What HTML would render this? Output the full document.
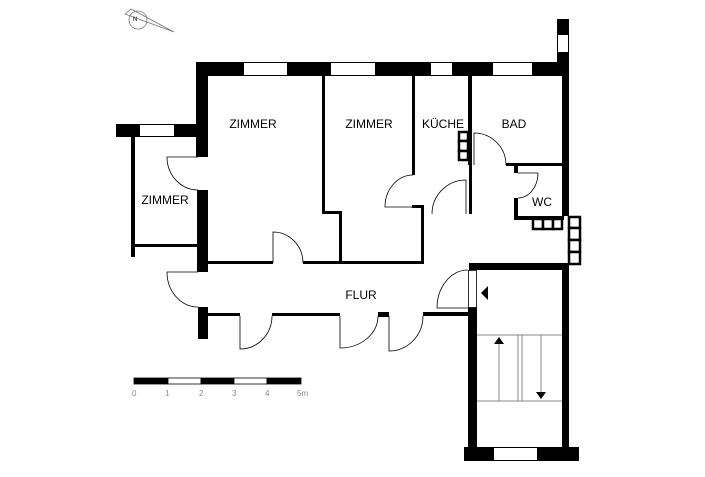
<!DOCTYPE html>
<html><head><meta charset="utf-8"><style>
html,body{margin:0;padding:0;background:#fff;}
svg{display:block;}
text{font-family:"Liberation Sans",sans-serif;fill:#000;}
</style></head><body>
<svg width="705" height="477" viewBox="0 0 705 477" xmlns="http://www.w3.org/2000/svg">
<rect width="705" height="477" fill="#fff"/>
<!-- compass -->
<g stroke="#777" fill="none" stroke-width="0.8">
<circle cx="138" cy="20" r="9"/>
<polygon points="125,14 131,9 174,32"/>
<text x="133" y="21" font-size="6" fill="#444" stroke="none">N</text>
</g>
<!-- top wall -->
<g fill="#000">
<rect x="196" y="62" width="47" height="14"/>
<rect x="288" y="62" width="42" height="14"/>
<rect x="376" y="62" width="54" height="14"/>
<rect x="453" y="62" width="39" height="14"/>
<rect x="533" y="62" width="36" height="14"/>
<rect x="557" y="19" width="12" height="15"/>
<rect x="557" y="53" width="12" height="10"/>
<!-- left walls main -->
<rect x="196" y="62" width="12" height="95"/>
<rect x="197" y="190" width="11" height="82"/>
<rect x="198" y="307" width="10" height="32"/>
<!-- small room -->
<rect x="116" y="124" width="23" height="13"/>
<rect x="175" y="124" width="23" height="13"/>
<rect x="131" y="137" width="4" height="120"/>
<rect x="131" y="244" width="67" height="3"/>
<!-- right wall -->
<rect x="562" y="62" width="7" height="154"/>
<rect x="562" y="263" width="7" height="187"/>
<!-- interior thin walls -->
<rect x="322" y="76" width="3" height="138"/>
<rect x="322" y="211" width="18" height="3"/>
<rect x="339" y="211" width="3" height="53"/>
<rect x="208" y="261" width="65" height="3"/>
<rect x="303" y="261" width="120" height="3"/>
<rect x="412" y="76" width="3" height="99"/>
<rect x="412" y="205" width="11" height="3"/>
<rect x="421" y="205" width="3" height="59"/>
<rect x="468" y="76" width="4" height="89"/>
<rect x="469" y="165" width="3" height="49"/>
<rect x="506" y="163" width="58" height="3"/>
<rect x="514" y="163" width="4" height="10"/>
<rect x="514" y="198" width="4" height="22"/>
<rect x="514" y="216" width="50" height="4"/>
<!-- flur bottom -->
<rect x="208" y="313" width="32" height="3"/>
<rect x="272" y="313" width="68" height="3"/>
<rect x="378" y="312" width="11" height="5"/>
<rect x="423" y="312" width="47" height="4"/>
<!-- stair room -->
<rect x="469" y="263" width="100" height="7"/>
<rect x="468" y="307" width="9" height="144"/>
<rect x="464" y="447" width="29" height="14"/>
<rect x="538" y="447" width="41" height="14"/>
</g>
<!-- windows -->
<g fill="#fff" stroke="#000" stroke-width="1">
<rect x="243.5" y="62.5" width="44" height="13"/>
<rect x="330.5" y="62.5" width="45" height="13"/>
<rect x="430.5" y="62.5" width="22" height="13"/>
<rect x="492.5" y="62.5" width="40" height="13"/>
<rect x="557.5" y="34.5" width="11" height="18"/>
<rect x="139.5" y="124.5" width="35" height="12"/>
<rect x="493.5" y="447.5" width="44" height="13"/>
</g>
<!-- square blocks -->
<g fill="#fff" stroke="#000" stroke-width="2.5">
<rect x="459" y="132" width="9" height="9"/>
<rect x="459" y="141" width="9" height="10"/>
<rect x="459" y="151" width="9" height="9"/>
<rect x="533" y="219" width="10" height="10"/>
<rect x="543" y="219" width="10" height="10"/>
<rect x="553" y="219" width="9" height="10"/>
<rect x="569" y="217" width="11" height="11"/>
<rect x="569" y="228" width="11" height="12"/>
<rect x="569" y="240" width="11" height="12"/>
<rect x="569" y="252" width="11" height="12"/>
</g>
<!-- doors -->
<g fill="none" stroke="#000" stroke-width="0.8">
<path d="M198 157 L167 157 A31 33 0 0 0 198 190"/>
<path d="M273 263 L273 232 A30 31 0 0 1 303 263"/>
<path d="M198 272 L167 272 A31 35 0 0 0 198 307"/>
<path d="M240 316 L240 349 A32 33 0 0 0 272 316"/>
<path d="M340 316 L340 348 A38 32 0 0 0 378 316"/>
<path d="M389 316 L389 351 A34 35 0 0 0 423 316"/>
<path d="M413 207 L385 207 A28 32 0 0 1 413 175"/>
<path d="M466 214 L466 180 A34 34 0 0 0 432 214"/>
<path d="M474 165 L474 133 A32 32 0 0 1 506 165"/>
<path d="M518 173 L538 173 A20 25 0 0 1 518 198"/>
<path d="M468 270 A31 38 0 0 0 437 308 L468 308"/>
</g>
<rect x="468.5" y="270.5" width="8" height="37" fill="#fff" stroke="#000" stroke-width="0.8"/>
<polygon points="488,286 488,300 481,293" fill="#000"/>
<!-- stairs -->
<g stroke="#888" stroke-width="1" fill="none">
<line x1="477" y1="335" x2="562" y2="335"/>
<line x1="477" y1="401" x2="562" y2="401"/>
<line x1="499" y1="343" x2="499" y2="401"/>
<line x1="541" y1="335" x2="541" y2="392"/>
<rect x="518" y="335" width="4" height="66"/>
</g>
<polygon points="499,337 494,344 504,344" fill="#000"/>
<polygon points="541,399 536,392 546,392" fill="#000"/>
<!-- scale -->
<g stroke="#000" stroke-width="0.8">
<rect x="134" y="378" width="34" height="6" fill="#000"/>
<rect x="168" y="378" width="33" height="6" fill="#fff"/>
<rect x="201" y="378" width="33" height="6" fill="#000"/>
<rect x="234" y="378" width="33" height="6" fill="#fff"/>
<rect x="267" y="378" width="34" height="6" fill="#000"/>
</g>
<g font-size="8" style="fill:#888">
<text x="132" y="396" style="fill:#888">0</text>
<text x="165" y="396" style="fill:#888">1</text>
<text x="199" y="396" style="fill:#888">2</text>
<text x="232" y="396" style="fill:#888">3</text>
<text x="265" y="396" style="fill:#888">4</text>
<text x="297" y="396" style="fill:#888">5m</text>
</g>
<!-- labels -->
<g font-size="12" text-anchor="middle">
<text x="253" y="128">ZIMMER</text>
<text x="369" y="128">ZIMMER</text>
<text x="443" y="128">KÜCHE</text>
<text x="514" y="128">BAD</text>
<text x="165" y="204">ZIMMER</text>
<text x="542" y="206">WC</text>
<text x="361" y="299">FLUR</text>
</g>
</svg>
</body></html>
